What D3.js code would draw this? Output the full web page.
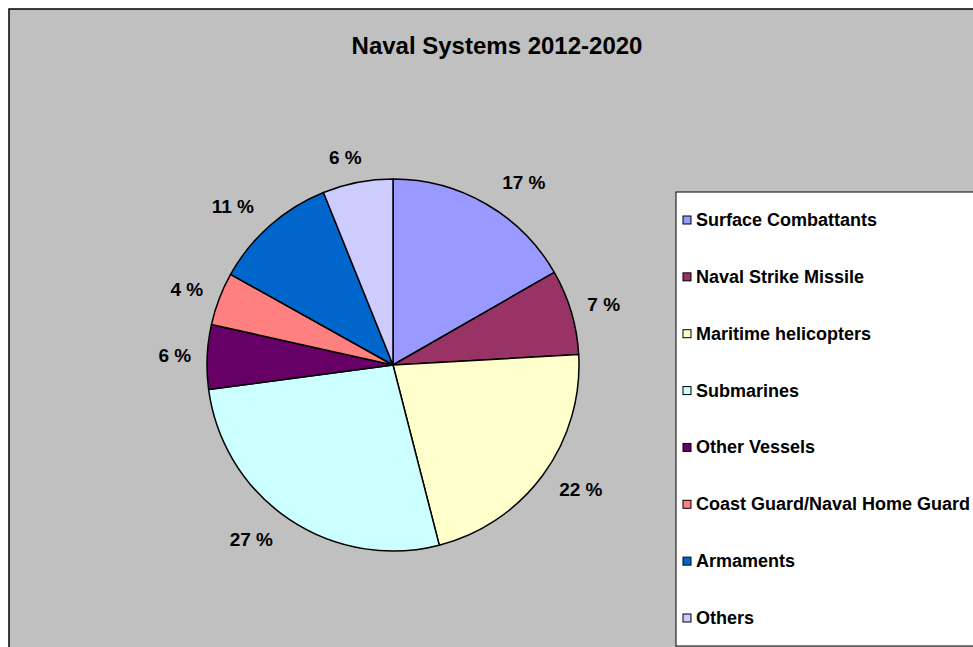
<!DOCTYPE html>
<html><head><meta charset="utf-8">
<script src="https://cdn.jsdelivr.net/npm/d3@7"></script>
<style>html,body{margin:0;padding:0;background:#fff;}svg{display:block;}</style>
</head><body>
<svg id="chart" width="973" height="647"></svg>
<script>
const title = "Naval Systems 2012-2020";
const categories = ["Surface Combattants","Naval Strike Missile","Maritime helicopters","Submarines","Other Vessels","Coast Guard/Naval Home Guard","Armaments","Others"];
const shares = [16.7, 7.4, 21.9, 26.9, 5.6, 4.6, 10.8, 6.1];
const percentLabels = ["17 %","7 %","22 %","27 %","6 %","4 %","11 %","6 %"];
const colors = ["#9999FF","#993366","#FFFFCC","#CCFFFF","#660066","#FF8080","#0066CC","#CCCCFF"];

const svg = d3.select("#chart");
const font = "'Liberation Sans', Arial, sans-serif";

// chart area
svg.append("rect").attr("x",9).attr("y",9).attr("width",1000).attr("height",700)
  .attr("fill","#C0C0C0").attr("stroke","#000").attr("stroke-width",1.5);

svg.append("text").attr("x",497).attr("y",54).attr("text-anchor","middle")
  .attr("font-family",font).attr("font-weight","bold").attr("font-size",24)
  .attr("fill","#000").text(title);

const cx = 393, cy = 365, r = 186;
const pie = d3.pie().value(d=>d).sort(null).startAngle(0).endAngle(2*Math.PI);
const arcs = pie(shares);
const arc = d3.arc().innerRadius(0).outerRadius(r);
const g = svg.append("g").attr("transform",`translate(${cx},${cy})`);
g.selectAll("path").data(arcs).join("path")
  .attr("d",arc).attr("fill",(d,i)=>colors[i])
  .attr("stroke","#000").attr("stroke-width",1.5).attr("stroke-linejoin","round");

// labels
const lbl = g.selectAll("text.lbl").data(arcs).join("text").attr("class","lbl")
  .attr("font-family",font).attr("font-weight","bold").attr("font-size",19)
  .attr("fill","#000").attr("text-anchor","middle").attr("dominant-baseline","central")
  .text((d,i)=>percentLabels[i]);
lbl.each(function(d){
  const a = (d.startAngle+d.endAngle)/2;
  const w = this.getComputedTextLength();
  const s = Math.sin(a), c = Math.cos(a);
  const x = s*(r) + Math.sign(s)*Math.min(1, 2*Math.abs(s))*(w/2+16);
  const y = -c*(r+25);
  d3.select(this).attr("x",x).attr("y",y);
});

// legend
svg.append("rect").attr("x",676).attr("y",192).attr("width",400).attr("height",454)
  .attr("fill","#fff").attr("stroke","#000").attr("stroke-width",1);
const ly = d3.scalePoint().domain(categories).range([220,618]);
const lg = svg.selectAll("g.leg").data(categories).join("g").attr("class","leg")
  .attr("transform",d=>`translate(683,${ly(d)})`);
lg.append("rect").attr("x",0).attr("y",-4).attr("width",8).attr("height",8)
  .attr("fill",(d,i)=>colors[i]).attr("stroke","#000").attr("stroke-width",1);
lg.append("text").attr("x",13).attr("y",0).attr("dominant-baseline","central")
  .attr("font-family",font).attr("font-weight","bold").attr("font-size",18)
  .attr("fill","#000").text(d=>d);
</script>
</body></html>
